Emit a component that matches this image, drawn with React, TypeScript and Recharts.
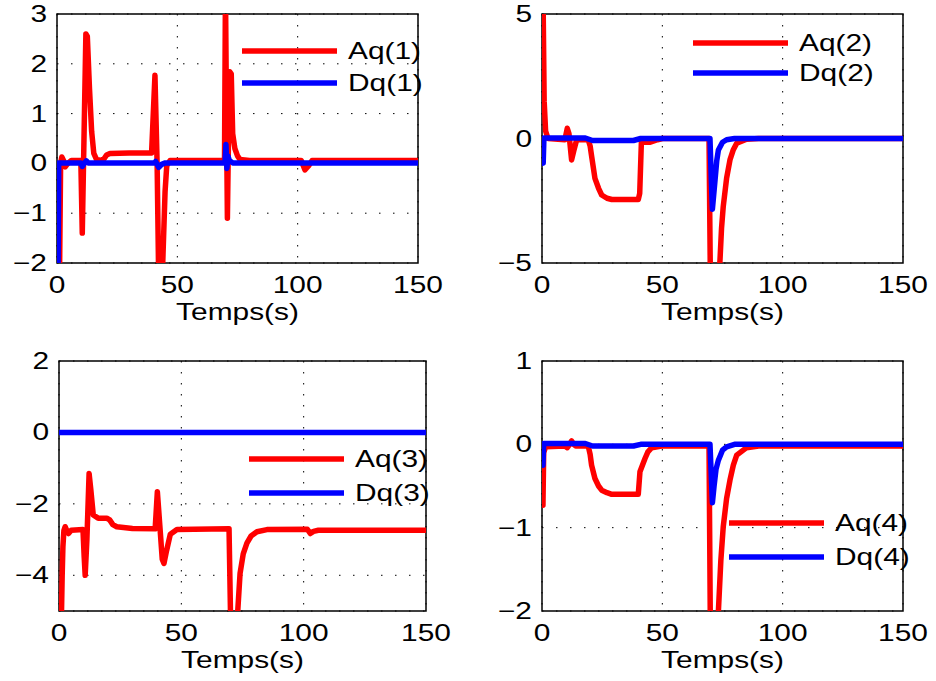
import React from "react";
import { LineChart, Line, XAxis, YAxis, CartesianGrid, ReferenceArea, Legend } from "recharts";

type Pt = [number, number];

// time axis ticks shared by all four panels
const timeTicks = [0, 50, 100, 150];

// panel 1
const aq1: Pt[] = [[0, -4], [1.0, -2.5], [1.5, 0.0], [2.0, 0.13], [2.8, 0.05], [3.4, -0.07], [4.5, 0.0], [6, 0.06], [9.9, 0.06], [10.5, -1.4], [12.0, 2.6], [12.6, 2.55], [13.5, 1.5], [14.4, 0.64], [15.3, 0.2], [16.4, 0.08], [18.5, 0.06], [19.5, 0.09], [20.6, 0.17], [22, 0.2], [30, 0.21], [39.3, 0.21], [40.7, 1.77], [41.6, 0.0], [42.3, -2.5], [43.6, -2.5], [44.9, -0.57], [45.6, -0.05], [47, 0.06], [69.6, 0.06], [70.0, 3.5], [70.5, 0.5], [70.8, -1.1], [71.2, 0.3], [71.8, 1.84], [72.4, 1.8], [73.0, 0.6], [73.9, 0.3], [75, 0.15], [76, 0.08], [80, 0.06], [101.5, 0.06], [103, -0.13], [104.5, -0.05], [106, 0.06], [150, 0.06]];
const dq1: Pt[] = [[0, -4], [0.4, -2.5], [0.7, 0.01], [10, 0.01], [10.5, -0.06], [11.3, 0.0], [12.2, 0.05], [13, 0.01], [40.5, 0.01], [41, 0.04], [42.3, -0.08], [43.5, -0.02], [45, 0.01], [69.8, 0.01], [70.2, 0.38], [70.6, -0.1], [71, 0.15], [71.6, 0.06], [73, 0.01], [150, 0.01]];
const yTicks1 = [-2, -1, 0, 1, 2, 3];

// panel 2
const aq2: Pt[] = [[0, 12], [0.4, 6], [0.9, 1.5], [1.5, 0.3], [2.5, 0.0], [9.5, -0.05], [10.5, 0.41], [11.2, 0.2], [12.3, -0.86], [13.2, -0.5], [14.4, -0.05], [19.2, -0.05], [20, -0.3], [20.6, -0.7], [22, -1.6], [23.5, -2.0], [24.8, -2.27], [27, -2.4], [29, -2.45], [40, -2.45], [40.6, -2.2], [41.3, -0.13], [42.5, -0.15], [45, -0.15], [48, -0.05], [50, 0.0], [69.4, 0.0], [70, -6], [71, -15], [72.5, -10], [73.9, -5.0], [74.6, -3.6], [75.3, -2.74], [76.7, -1.6], [78.1, -0.86], [79.5, -0.45], [80.9, -0.19], [85, -0.03], [90, 0], [150, 0]];
const dq2: Pt[] = [[0, -1.0], [0.5, -0.99], [0.8, 0.02], [18, 0.02], [21, -0.08], [38, -0.08], [41, 0], [69.8, 0], [70.3, -1.5], [70.8, -2.84], [71.9, -1.67], [72.6, -0.9], [73.3, -0.46], [75, -0.15], [76.7, -0.05], [80, 0], [150, 0]];
const yTicks2 = [-5, 0, 5];

// panel 3
const aq3: Pt[] = [[0, -7], [0.9, -5.5], [1.3, -4.0], [1.6, -3.2], [2.0, -2.75], [2.5, -2.64], [3.2, -2.75], [3.9, -2.83], [5, -2.74], [9.8, -2.72], [10.3, -3.5], [10.7, -4.0], [11.4, -3.0], [12.3, -1.15], [13.0, -1.6], [14.0, -2.31], [16, -2.4], [19.5, -2.4], [20.7, -2.45], [22, -2.58], [23.6, -2.64], [30, -2.69], [39.3, -2.7], [40.2, -1.66], [41.2, -2.6], [42.2, -3.55], [42.9, -3.67], [44, -3.3], [45.5, -2.85], [48.2, -2.72], [69.5, -2.7], [70.2, -5.5], [71.5, -7], [72.7, -5.4], [74, -3.95], [75.3, -3.4], [76.8, -3.1], [78.5, -2.9], [80.9, -2.78], [85, -2.72], [101.5, -2.71], [102.7, -2.83], [104, -2.77], [106, -2.74], [150, -2.74]];
const dq3: Pt[] = [[0, 0], [150, 0]];
const yTicks3 = [-4, -2, 0, 2];

// panel 4
const aq4: Pt[] = [[0, -0.73], [0.4, -0.73], [0.7, -0.1], [1.5, -0.03], [9.5, -0.02], [10.5, -0.04], [11.5, 0.0], [12.3, 0.04], [13.2, 0.0], [14, -0.02], [19.2, -0.02], [20, -0.12], [20.6, -0.25], [22, -0.41], [23.5, -0.5], [24.8, -0.55], [27, -0.58], [29, -0.6], [40, -0.6], [40.7, -0.33], [42.8, -0.17], [44, -0.09], [45.6, -0.04], [49.7, -0.02], [69.4, -0.02], [70, -2.4], [71, -5], [72.5, -3], [73.3, -2.0], [74.3, -1.4], [75.3, -0.99], [76.7, -0.65], [78.1, -0.43], [79.5, -0.25], [80.9, -0.13], [85, -0.04], [90, -0.02], [150, -0.02]];
const dq4: Pt[] = [[0, -0.25], [0.4, -0.25], [0.7, 0.01], [18, 0.01], [21, -0.02], [38, -0.02], [41, 0.0], [69.8, 0.0], [70.3, -0.35], [70.8, -0.7], [71.5, -0.5], [72.3, -0.3], [73.3, -0.19], [75, -0.07], [76.7, -0.03], [80, 0], [150, 0]];
const yTicks4 = [-2, -1, 0, 1];

const FONT = '"Liberation Sans", Arial, sans-serif';
const STRETCH = 1.3;
const PAD_L = 60;
const PAD_T = 14;
const PAD_R = 34;
const PAD_B = 72;

const fmt = (v: number) => (v < 0 ? "\u2212" + Math.abs(v) : String(v));
const toRows = (pts: Pt[]) => pts.map(([t, v]) => ({ t, v }));

const XTick = (props: any) => {
  const { x, y, payload } = props;
  return (
    <text transform={`translate(${x},${y + 30}) scale(${STRETCH},1)`} textAnchor="middle" fontSize={23} fontFamily={FONT} fill="#000">
      {fmt(payload.value)}
    </text>
  );
};

const YTick = (props: any) => {
  const { x, y, payload } = props;
  return (
    <text transform={`translate(${x - 10},${y + 8}) scale(${STRETCH},1)`} textAnchor="end" fontSize={23} fontFamily={FONT} fill="#000">
      {fmt(payload.value)}
    </text>
  );
};

const XLabel = (props: any) => {
  const vb = props.viewBox;
  return (
    <text transform={`translate(${vb.x + vb.width / 2},${vb.y + 57}) scale(${STRETCH},1)`} textAnchor="middle" fontSize={23} fontFamily={FONT} fill="#000">
      Temps(s)
    </text>
  );
};

interface PanelProps {
  box: { x: number; y: number; w: number; h: number };
  yDomain: [number, number];
  yTicks: number[];
  aq: Pt[];
  dq: Pt[];
  idx: number;
  legend: { x: number; y: number; gap: number };
}

function Panel({ box, yDomain, yTicks, aq, dq, idx, legend }: PanelProps) {
  const left = box.x - PAD_L;
  const top = box.y - PAD_T;
  const width = PAD_L + box.w + PAD_R;
  const height = PAD_T + box.h + PAD_B;

  const renderLegend = (p: any) => (
    <svg width={200} height={legend.gap + 34} style={{ display: "block", overflow: "visible" }}>
      {(p.payload || []).map((item: any, i: number) => (
        <g key={item.value}>
          <line x1={0} x2={95} y1={16 + i * legend.gap} y2={16 + i * legend.gap} stroke={item.color} strokeWidth={5.5} />
          <text transform={`translate(106,${16 + i * legend.gap + 8}) scale(${STRETCH},1)`} fontSize={23} fontFamily={FONT} fill="#000">
            {item.value}
          </text>
        </g>
      ))}
    </svg>
  );

  return (
    <div style={{ position: "absolute", left, top }}>
      <LineChart width={width} height={height} margin={{ top: PAD_T, right: PAD_R, bottom: 0, left: 0 }}>
        <CartesianGrid vertical={false} stroke="#000" strokeDasharray="1.5 12.5" />
        <CartesianGrid horizontal={false} stroke="#000" strokeDasharray="1.5 9.5" />
        <XAxis
          dataKey="t"
          type="number"
          domain={[0, 150]}
          ticks={timeTicks}
          allowDataOverflow
          axisLine={false}
          tickLine={false}
          tickSize={0}
          tickMargin={0}
          height={PAD_B}
          tick={XTick}
          label={{ content: XLabel }}
        />
        <YAxis
          type="number"
          domain={yDomain}
          ticks={yTicks}
          allowDataOverflow
          axisLine={false}
          tickLine={false}
          tickSize={0}
          tickMargin={0}
          width={PAD_L}
          tick={YTick}
        />
        <ReferenceArea x1={0} x2={150} y1={yDomain[0]} y2={yDomain[1]} fill="none" stroke="#000" strokeWidth={1.5} />
        <Line data={toRows(aq)} dataKey="v" name={`Aq(${idx})`} type="linear" stroke="#ff0000" strokeWidth={5.5} strokeLinejoin="round" strokeLinecap="round" dot={false} isAnimationActive={false} />
        <Line data={toRows(dq)} dataKey="v" name={`Dq(${idx})`} type="linear" stroke="#0000ff" strokeWidth={5.5} strokeLinejoin="round" strokeLinecap="round" dot={false} isAnimationActive={false} />
        <Legend
          layout="horizontal"
          verticalAlign="middle"
          align="center"
          content={renderLegend}
          wrapperStyle={{ left: legend.x - left, top: legend.y - 16 - top, width: 200, height: legend.gap + 34 }}
        />
      </LineChart>
    </div>
  );
}

export default function App() {
  return (
    <div style={{ position: "absolute", left: 0, top: 0, width: 936, height: 681, background: "#fff", overflow: "hidden" }}>
      <Panel box={{ x: 57, y: 14, w: 361, h: 249 }} yDomain={[-2, 3]} yTicks={yTicks1} aq={aq1} dq={dq1} idx={1} legend={{ x: 242, y: 51, gap: 32 }} />
      <Panel box={{ x: 542, y: 14, w: 361, h: 249 }} yDomain={[-5, 5]} yTicks={yTicks2} aq={aq2} dq={dq2} idx={2} legend={{ x: 693, y: 43, gap: 30 }} />
      <Panel box={{ x: 59, y: 361, w: 367, h: 250 }} yDomain={[-5, 2]} yTicks={yTicks3} aq={aq3} dq={dq3} idx={3} legend={{ x: 249, y: 459, gap: 34 }} />
      <Panel box={{ x: 542, y: 361, w: 361, h: 250 }} yDomain={[-2, 1]} yTicks={yTicks4} aq={aq4} dq={dq4} idx={4} legend={{ x: 729, y: 523, gap: 34 }} />
    </div>
  );
}
